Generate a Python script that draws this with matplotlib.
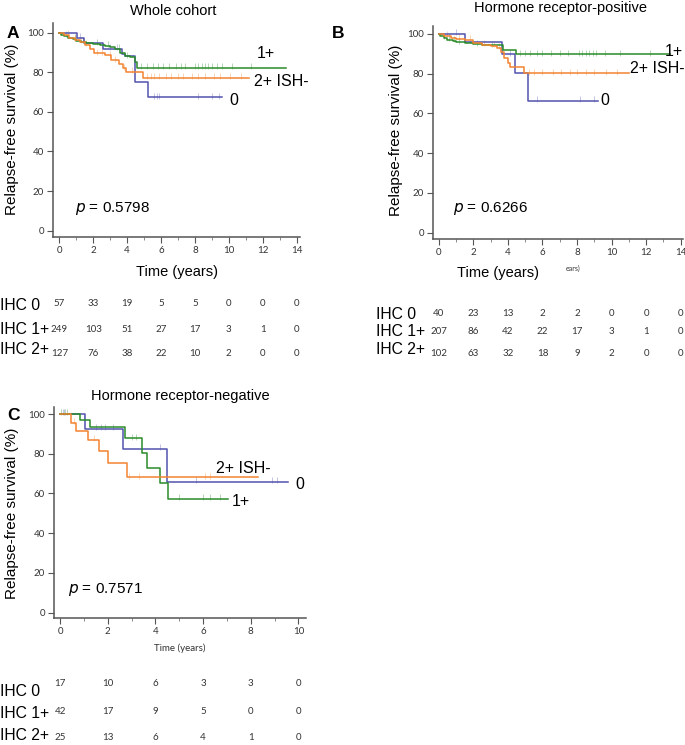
"""
Relapse-free survival by HER2 IHC status (Kaplan-Meier style step curves)
Three panels: whole cohort, HR-positive, HR-negative, with numbers at risk.
"""

import matplotlib
matplotlib.use("Agg")
import matplotlib.pyplot as plt
from matplotlib.transforms import blended_transform_factory

# ---- data ----
groups = ["0", "1+", "2+ ISH-"]
risk_labels = ["IHC 0", "IHC 1+", "IHC 2+"]

# Panel A - whole cohort
a_t_0 = [0, 1.03, 1.45, 2.6, 3.68, 3.85, 4.45, 5.25, 9.6]
a_s_0 = [100, 97.5, 95, 92, 89, 88, 75.3, 67.3, 67.3]
a_t_1 = [0, 0.1, 0.3, 0.5, 0.8, 1.0, 1.3, 1.6, 2.0, 2.4, 2.7, 3.0, 3.3, 3.6, 3.9, 4.2, 4.45, 4.56, 13.4]
a_s_1 = [100, 99, 98.5, 97.5, 97, 96, 95.5, 95, 94.5, 94, 93.5, 93, 92, 90, 88, 87.5, 85, 82.3, 82.3]
a_t_2 = [0, 0.3, 0.6, 0.9, 1.2, 1.5, 1.8, 2.05, 2.7, 3.05, 3.5, 3.75, 3.95, 4.95, 11.2]
a_s_2 = [100, 99, 97.5, 96.5, 95.5, 94, 92, 89.6, 88.5, 86, 84, 82, 80.4, 77.2, 77.2]
a_c_0 = [1.2, 3.0, 3.4, 5.6, 5.75, 5.9, 8.2, 9.0, 9.4]
a_c_1 = [0.4, 0.9, 1.4, 2.2, 2.9, 3.5, 4.0, 4.8, 5.2, 5.5, 5.8, 6.1, 6.5, 6.9, 7.2, 7.4, 8.0, 8.2,
         8.4, 8.6, 8.8, 9.0, 9.3, 9.6, 10.2, 11.3]
a_c_2 = [0.5, 0.9, 1.3, 1.6, 2.2, 2.5, 3.0, 3.3, 3.8, 4.3, 5.2, 5.4, 5.6, 5.9, 6.3, 6.6, 7.0, 7.3,
         7.8, 8.2, 8.6, 9.1, 9.5, 10.1, 10.7]
a_risk = [[57, 33, 19, 5, 5, 0, 0, 0],
          [249, 103, 51, 27, 17, 3, 1, 0],
          [127, 76, 38, 22, 10, 2, 0, 0]]
a_risk_t = [0, 2, 4, 6, 8, 10, 12, 14]

# Panel B - hormone receptor-positive
b_t_0 = [0, 1.52, 3.64, 4.41, 5.18, 9.23]
b_s_0 = [100, 96.1, 89.8, 80.2, 66.4, 66.4]
b_t_1 = [0, 0.1, 0.3, 0.5, 0.8, 1.0, 1.5, 2.0, 2.5, 3.0, 3.7, 4.45, 13.4]
b_s_1 = [100, 99, 98, 97, 96.5, 95.8, 95.3, 94.8, 94.5, 94.3, 92, 89.8, 89.8]
b_t_2 = [0, 0.3, 0.7, 1.0, 1.5, 2.0, 2.5, 3.0, 3.4, 3.6, 3.8, 4.0, 4.1, 4.95, 11.0]
b_s_2 = [100, 99, 98, 97.5, 97, 95.5, 94.5, 94, 93, 91, 88, 85.5, 83.3, 80.2, 80.2]
b_c_0 = [1.0, 4.1, 5.7, 8.2, 9.0]
b_c_1 = [0.3, 0.6, 0.9, 1.2, 2.2, 3.1, 4.7, 5.0, 5.3, 5.7, 6.0, 6.5, 7.0, 7.5, 8.1, 8.3, 8.5,
         8.7, 8.9, 9.1, 9.6, 10.5, 12.2]
b_c_2 = [0.5, 1.2, 1.8, 2.6, 3.2, 3.5, 5.2, 5.5, 6.0, 6.6, 7.1, 7.6, 8.0, 8.5, 9.0, 9.7, 10.3]
b_risk = [[40, 23, 13, 2, 2, 0, 0, 0],
          [207, 86, 42, 22, 17, 3, 1, 0],
          [102, 63, 32, 18, 9, 2, 0, 0]]
b_risk_t = [0, 2, 4, 6, 8, 10, 12, 14]

# Panel C - hormone receptor-negative
c_t_0 = [0, 1.04, 2.65, 4.47, 9.58]
c_s_0 = [100, 92.6, 82.4, 65.9, 65.9]
c_t_1 = [0, 0.83, 1.25, 2.72, 3.42, 3.63, 4.19, 4.54, 7.03]
c_s_1 = [100, 97, 93.4, 87.8, 80.5, 73, 65.1, 57.2, 57.2]
c_t_2 = [0, 0.45, 0.66, 1.18, 1.64, 2.02, 2.79, 8.29]
c_s_2 = [100, 95.6, 91.6, 86.9, 81.4, 75.5, 68.1, 68.1]
c_c_0 = [0.1, 0.2, 1.5, 1.7, 1.9, 2.2, 4.2, 5.7, 8.9, 9.1]
c_c_1 = [0.05, 0.15, 0.3, 1.0, 3.0, 3.2, 5.0, 6.0, 6.3, 6.7]
c_c_2 = [0.6, 1.4, 2.9, 3.3, 6.1, 6.3]
c_risk = [[17, 10, 6, 3, 3, 0],
          [42, 17, 9, 5, 0, 0],
          [25, 13, 6, 4, 1, 0]]
c_risk_t = [0, 2, 4, 6, 8, 10]

colors = ["#5252ae", "#2a8c2a", "#f28430"]

W, H = 685, 745
fig = plt.figure(figsize=(W / 100, H / 100), dpi=100)
LABEL_FONT = "Liberation Sans"
SMALL_FONT = "Lato"


def add_axes_px(left, top, right, bottom):
    return fig.add_axes([left / W, 1 - bottom / H, (right - left) / W, (bottom - top) / H])


def step_value(t, s, x):
    val = s[0]
    for ti, si in zip(t, s):
        if ti <= x:
            val = si
    return val


def km_panel(ax, curves, xlim, ylim, xmax_tick):
    for (t, s, c), col in zip(curves, colors):
        ax.step(t, s, where="post", color=col, lw=1.1, zorder=3)
        cy = [step_value(t, s, x) + 0.8 for x in c]
        ax.plot(c, cy, ls="none", marker="|", ms=4, mew=0.7, color=col, alpha=0.35, zorder=2)
    ax.set_xlim(*xlim)
    ax.set_ylim(*ylim)
    ax.set_xticks(range(0, xmax_tick + 1, 2))
    ax.set_xticks(range(0, xmax_tick + 1, 1), minor=True)
    ax.set_yticks(range(0, 101, 20))
    for sp in ["top", "right"]:
        ax.spines[sp].set_visible(False)
    for sp in ["left", "bottom"]:
        ax.spines[sp].set_color("#555555")
        ax.spines[sp].set_linewidth(1.1)
    ax.tick_params(axis="both", which="major", length=4, width=0.8, color="#555555",
                   labelsize=7, labelcolor="#333333", pad=2.5)
    ax.tick_params(axis="x", which="minor", length=2.5, width=0.6, color="#777777")
    for lab in ax.get_xticklabels() + ax.get_yticklabels():
        lab.set_fontfamily(SMALL_FONT)
    ax.patch.set_alpha(0)


def risk_table(ax, risk, risk_t, ys_num, ys_lab, x_lab):
    tr = blended_transform_factory(ax.transData, fig.transFigure)
    for row, yn, yl, lab in zip(risk, ys_num, ys_lab, risk_labels):
        fig.text(x_lab / W, 1 - yl / H, lab, fontsize=11.3, family=LABEL_FONT,
                 ha="left", va="center")
        for t, n in zip(risk_t, row):
            ax.text(t, 1 - yn / H, str(n), transform=tr, fontsize=7, family=SMALL_FONT,
                    color="#333333", ha="center", va="center")


# ---- Panel A ----
axA = add_axes_px(53, 23.4, 300, 237)
km_panel(axA, [(a_t_0, a_s_0, a_c_0), (a_t_1, a_s_1, a_c_1), (a_t_2, a_s_2, a_c_2)],
         (-0.37, 14.2), (-3.2, 104.7), 14)
axA.text(12.2, 89.6, "1+", fontsize=11.5, family=LABEL_FONT, ha="center", va="center")
axA.text(11.5, 75.3, "2+ ISH-", fontsize=11.5, family=LABEL_FONT, ha="left", va="center")
axA.text(10.3, 66, "0", fontsize=11.5, family=LABEL_FONT, ha="center", va="center")
axA.text(0.93, 11.3, r"$p$ = 0.5798", fontsize=11, family=LABEL_FONT, ha="left", va="center")
fig.text(173 / W, 1 - 11 / H, "Whole cohort", fontsize=10.5, family=LABEL_FONT, ha="center", va="center")
fig.text(177 / W, 1 - 272 / H, "Time (years)", fontsize=10.5, family=LABEL_FONT, ha="center", va="center")
fig.text(12 / W, 1 - 129 / H, "Relapse-free survival (%)", fontsize=11, family=LABEL_FONT,
         rotation=90, ha="center", va="center")
fig.text(13 / W, 1 - 34 / H, "A", fontsize=12.5, fontweight="bold", family=LABEL_FONT,
         ha="center", va="center")
risk_table(axA, a_risk, a_risk_t, [303, 329, 353], [306, 329, 350], 0)

# ---- Panel B ----
axB = add_axes_px(433, 26, 682.5, 239)
km_panel(axB, [(b_t_0, b_s_0, b_c_0), (b_t_1, b_s_1, b_c_1), (b_t_2, b_s_2, b_c_2)],
         (-0.33, 14.1), (-3.2, 104), 14)
axB.text(13.05, 91, "1+", fontsize=11.5, family=LABEL_FONT, ha="left", va="center")
axB.text(11.07, 82.5, "2+ ISH-", fontsize=11.5, family=LABEL_FONT, ha="left", va="center")
axB.text(9.6, 66.6, "0", fontsize=11.5, family=LABEL_FONT, ha="center", va="center")
axB.text(0.84, 12.3, r"$p$ = 0.6266", fontsize=11, family=LABEL_FONT, ha="left", va="center")
fig.text(560 / W, 1 - 8 / H, "Hormone receptor-positive", fontsize=10.5, family=LABEL_FONT,
         ha="center", va="center")
fig.text(498 / W, 1 - 273 / H, "Time (years)", fontsize=10.5, family=LABEL_FONT, ha="center", va="center")
fig.text(573 / W, 1 - 268 / H, "ears)", fontsize=5, family=SMALL_FONT, color="#333333",
         ha="center", va="center")
fig.text(396 / W, 1 - 130 / H, "Relapse-free survival (%)", fontsize=11, family=LABEL_FONT,
         rotation=90, ha="center", va="center")
fig.text(338 / W, 1 - 33 / H, "B", fontsize=12.5, fontweight="bold", family=LABEL_FONT,
         ha="center", va="center")
risk_table(axB, b_risk, b_risk_t, [313, 332, 353], [315, 331, 350], 376)

# ---- Panel C ----
axC = add_axes_px(54, 406.7, 305.5, 618)
km_panel(axC, [(c_t_0, c_s_0, c_c_0), (c_t_1, c_s_1, c_c_1), (c_t_2, c_s_2, c_c_2)],
         (-0.26, 10.3), (-2.7, 103.7), 10)
axC.text(6.54, 72.7, "2+ ISH-", fontsize=11.5, family=LABEL_FONT, ha="left", va="center")
axC.text(10.07, 64.3, "0", fontsize=11.5, family=LABEL_FONT, ha="center", va="center")
axC.text(7.2, 55.9, "1+", fontsize=11.5, family=LABEL_FONT, ha="left", va="center")
axC.text(0.34, 11.4, r"$p$ = 0.7571", fontsize=11, family=LABEL_FONT, ha="left", va="center")
fig.text(180 / W, 1 - 396 / H, "Hormone receptor-negative", fontsize=10.5, family=LABEL_FONT,
         ha="center", va="center")
fig.text(180 / W, 1 - 648 / H, "Time (years)", fontsize=7, family=SMALL_FONT, color="#333333",
         ha="center", va="center")
fig.text(12 / W, 1 - 513 / H, "Relapse-free survival (%)", fontsize=11, family=LABEL_FONT,
         rotation=90, ha="center", va="center")
fig.text(13 / W, 1 - 415 / H, "C", fontsize=12.5, fontweight="bold", family=LABEL_FONT,
         ha="center", va="center")
risk_table(axC, c_risk, c_risk_t, [684, 711, 737], [691, 713, 736], 0)

fig.savefig("out.png", dpi=100)
